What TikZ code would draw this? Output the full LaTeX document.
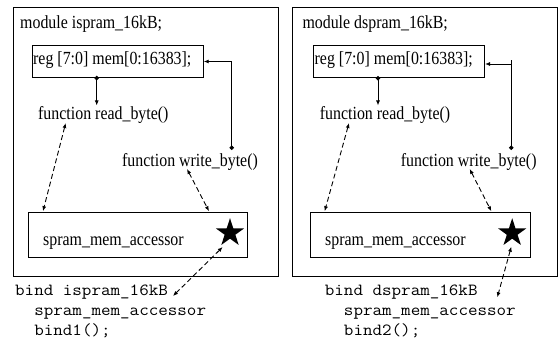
\documentclass[tikz,border=0pt]{standalone}
\usepackage{fontspec}
\setmainfont{Liberation Serif}[FakeStretch=0.86]
\setmonofont{Latin Modern Mono}[FakeStretch=1.09]
\usetikzlibrary{shapes.geometric,arrows.meta}
\tikzset{
  outerbox/.style={draw, line width=1pt, inner sep=0pt, anchor=north west},
  innerbox/.style={draw, line width=1pt, inner sep=0pt, anchor=north west},
  lbl/.style={inner sep=0pt, anchor=base west, font=\fontsize{18.5}{22}\selectfont},
  code/.style={inner sep=0pt, anchor=north west, align=left, font=\ttfamily\fontsize{17}{20}\selectfont},
  solidarrow/.style={line width=0.9pt, -{Latex[length=5pt,width=4pt]}},
  dotarrow/.style={line width=0.9pt, {Circle[length=4.5pt]}-{Latex[length=5pt,width=4pt]}},
  dotline/.style={line width=0.9pt, {Circle[length=4.5pt]}-},
  dasharrow/.style={line width=0.9pt, dash pattern=on 5pt off 3pt, {Latex[length=5pt,width=4pt]}-{Latex[length=5pt,width=4pt]}},
  starnode/.style={star, star points=5, star point ratio=2.618, fill=black, minimum size=29.6pt, inner sep=0pt}
}
\begin{document}
\begin{tikzpicture}[x=1pt,y=-1pt]
\useasboundingbox (0,0) rectangle (558,339);
% ---------- left module ----------
\node[outerbox, minimum width=265pt, minimum height=268.4pt] (outL) at (12.7,7.3) {};
\node[lbl] (modL) at (20,28.3) {module ispram\_16kB;};
\node[innerbox, minimum width=171pt, minimum height=32pt] (regL) at (31.7,45) {};
\node[lbl] (regtL) at (33,65) {reg [7:0] mem[0:16383];};
\node[lbl] (readL) at (38,119.3) {function read\_byte()};
\node[lbl] (writeL) at (122,166.7) {function write\_byte()};
\node[innerbox, minimum width=219pt, minimum height=45pt] (accL) at (27.7,211.7) {};
\node[lbl] (acctL) at (43,246) {spram\_mem\_accessor};
\node[starnode] (starL) at (230,233) {};
\node[code] (bindL) at (15,284.5) {bind ispram\_16kB\\\hphantom{xx}spram\_mem\_accessor\\\hphantom{xx}bind1();};
\coordinate (dL) at (96.7,75.8);
\coordinate (rL) at (96.7,105.5);
\draw[dotarrow] (dL) -- (rL);
\coordinate (wL) at (231.7,150);
\draw[dotarrow] (wL) |- (regL.east);
\coordinate (ra1) at (65.7,123);
\coordinate (ra2) at (43,211.2);
\draw[dasharrow] (ra1) -- (ra2);
\coordinate (wa1) at (187,169);
\coordinate (wa2) at (209,211.2);
\draw[dasharrow] (wa1) -- (wa2);
\coordinate (sa1) at (222.7,247);
\coordinate (sa2) at (173,296);
\draw[dasharrow] (sa1) -- (sa2);
% ---------- right module ----------
\node[outerbox, minimum width=264.5pt, minimum height=268.4pt] (outR) at (292,7.3) {};
\node[lbl] (modR) at (302.3,28.3) {module dspram\_16kB;};
\node[innerbox, minimum width=171pt, minimum height=32.3pt] (regR) at (313,45) {};
\node[lbl] (regtR) at (314.5,65) {reg [7:0] mem[0:16383];};
\node[lbl] (readR) at (319.7,119.3) {function read\_byte()};
\node[lbl] (writeR) at (400.7,166.7) {function write\_byte()};
\node[innerbox, minimum width=220pt, minimum height=45.3pt] (accR) at (309.7,211.7) {};
\node[lbl] (acctR) at (325,246) {spram\_mem\_accessor};
\node[starnode] (starR) at (512.2,233) {};
\node[code] (bindR) at (324.7,284.5) {bind dspram\_16kB\\\hphantom{xx}spram\_mem\_accessor\\\hphantom{xx}bind2();};
\coordinate (dR) at (378,76);
\coordinate (rR) at (378,105.5);
\draw[dotarrow] (dR) -- (rR);
\coordinate (wR) at (511.3,150);
\coordinate (tR) at (511.3,60);
\coordinate (cR) at (511.3,64);
\draw[dotline] (wR) -- (tR);
\draw[solidarrow] (cR) -- (cR -| regR.east);
\coordinate (ra3) at (349,123);
\coordinate (ra4) at (324.7,211.2);
\draw[dasharrow] (ra3) -- (ra4);
\coordinate (wa3) at (469.7,169);
\coordinate (wa4) at (491.3,211.2);
\draw[dasharrow] (wa3) -- (wa4);
\coordinate (sa3) at (511.3,246.7);
\coordinate (sa4) at (497.3,297.3);
\draw[dasharrow] (sa3) -- (sa4);
\end{tikzpicture}
\end{document}
